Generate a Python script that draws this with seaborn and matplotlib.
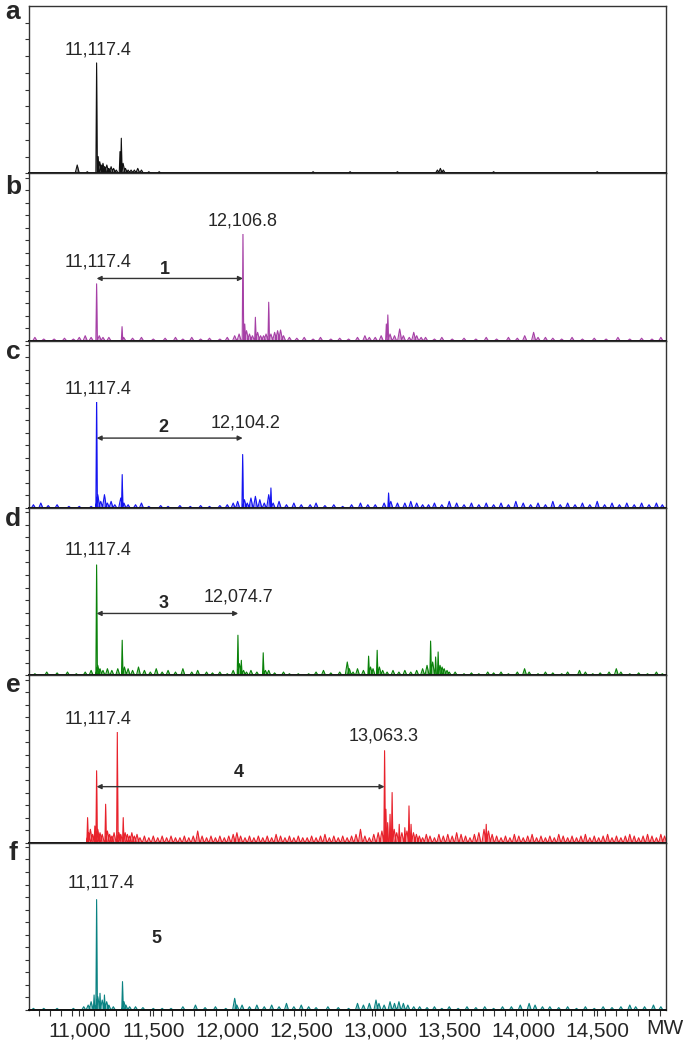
import numpy as np
import pandas as pd
import matplotlib.pyplot as plt
import seaborn as sns
from matplotlib.ticker import MultipleLocator, FuncFormatter

# peak lists (MW, intensity in % of panel height)
a_mw = [10986, 11054, 11117, 11128, 11138, 11148, 11160, 11172, 11186, 11200, 11215, 11232, 11250,
        11275, 11284, 11296, 11312, 11330, 11350, 11372, 11395, 11420, 11470, 11540, 12580, 12830,
        13150, 13420, 13440, 13460, 13800, 14500]
a_int = [5, 1, 66, 10, 7, 5, 6, 4, 5, 3, 4, 3, 2, 13, 21, 6, 3, 2, 2, 2, 3, 2, 1, 1, 1, 1,
         1, 2, 3, 2, 1, 1]

b_mw = [10700, 10760, 10830, 10900, 10960, 11000, 11040, 11080, 11117, 11135, 11160, 11200, 11289,
        11300, 11360, 11420, 11500, 11580, 11650, 11700, 11760, 11820, 11880, 11950, 12000, 12050,
        12080, 12106, 12118, 12130, 12150, 12170, 12190, 12205, 12225, 12245, 12262, 12280, 12295,
        12320, 12340, 12360, 12380, 12420, 12470, 12520, 12580, 12630, 12700, 12760, 12820, 12880,
        12930, 12960, 13000, 13040, 13075, 13085, 13100, 13130, 13165, 13190, 13230, 13260, 13280,
        13310, 13340, 13400, 13450, 13520, 13600, 13680, 13750, 13820, 13900, 13960, 14010, 14070,
        14100, 14150, 14200, 14260, 14330, 14400, 14480, 14560, 14640, 14720, 14800, 14870, 14930]
b_int = [2, 1, 1, 1.5, 1, 2, 3, 2, 34, 3, 2, 2, 8.4, 2, 1.5, 2, 1, 1.5, 2, 1, 2, 1, 1.5, 1, 2, 3,
         4, 65, 10, 6, 4, 3, 14, 5, 3, 3, 4, 23, 4, 5, 6, 6.4, 3, 2, 1.5, 2, 1, 2, 1, 1.5, 1, 2,
         3, 2, 2, 3, 10, 15.4, 4, 3, 7, 3, 2, 5, 3, 2, 2, 1, 2, 1, 1.5, 1, 2, 1, 2, 1.5, 3, 5,
         2, 2, 1.5, 1, 2, 1, 1.5, 1, 2, 1, 1.5, 1, 2]

c_mw = [10690, 10740, 10790, 10850, 10930, 11000, 11080, 11117, 11125, 11145, 11170, 11190, 11215,
        11240, 11280, 11290, 11302, 11330, 11380, 11420, 11470, 11550, 11600, 11680, 11750, 11820,
        11880, 11950, 12000, 12040, 12070, 12104, 12116, 12135, 12160, 12190, 12220, 12250, 12280,
        12295, 12310, 12350, 12400, 12450, 12500, 12560, 12600, 12660, 12720, 12780, 12840, 12900,
        12950, 13000, 13060, 13090, 13105, 13150, 13200, 13240, 13280, 13320, 13360, 13400, 13450,
        13500, 13550, 13600, 13650, 13700, 13750, 13800, 13850, 13900, 13950, 14000, 14050, 14100,
        14150, 14200, 14250, 14300, 14350, 14400, 14450, 14500, 14550, 14600, 14650, 14700, 14750,
        14800, 14850, 14900, 14940]
c_int = [2, 3, 1.5, 2, 1, 1, 1, 66, 8, 4, 8, 3, 4, 2, 6, 20, 3, 2, 2, 3, 1, 1.5, 1, 1.5, 1, 1.5,
         1, 1.5, 2, 3, 4, 32, 5, 3, 6, 7, 5, 3, 8, 12, 3, 4, 2, 3, 2, 2, 3, 1.5, 2, 1, 2, 3,
         2, 2, 3, 9, 4, 3, 3, 4, 3, 2, 2, 3, 2, 4, 3, 2, 3, 2, 3, 2, 3, 2, 4, 3, 2, 3,
         2, 4, 2, 3, 2, 3, 2, 4, 2, 3, 2, 3, 2, 3, 2, 3, 2]

d_mw = [10700, 10780, 10850, 10920, 10980, 11040, 11080, 11117, 11125, 11140, 11160, 11190, 11220,
        11260, 11290, 11305, 11330, 11360, 11400, 11440, 11480, 11520, 11560, 11600, 11650, 11700,
        11760, 11800, 11860, 11900, 11950, 12000, 12040, 12072, 12082, 12095, 12110, 12130, 12160,
        12200, 12243, 12258, 12280, 12320, 12380, 12420, 12480, 12550, 12600, 12650, 12700, 12760,
        12811, 12825, 12850, 12880, 12920, 12955, 12968, 12985, 13013, 13028, 13050, 13080, 13120,
        13160, 13200, 13240, 13280, 13320, 13350, 13374, 13388, 13408, 13425, 13438, 13452, 13466,
        13485, 13500, 13540, 13600, 13650, 13700, 13760, 13800, 13850, 13900, 13960, 14009, 14040,
        14100, 14150, 14200, 14260, 14300, 14380, 14420, 14470, 14520, 14580, 14629, 14660, 14720,
        14780, 14840, 14900, 14940]
d_int = [1, 2, 1.5, 2, 1, 2, 3, 66, 6, 4, 3, 4, 3, 4, 21, 5, 4, 3, 5, 3, 2, 4, 2, 3, 2, 4, 2,
         3, 2, 1.5, 2, 1, 3, 24, 7, 9, 3, 2, 3, 2, 13.5, 3, 3, 1.5, 2, 1, 1, 1, 2, 3, 1.5, 2,
         8, 4, 2, 4, 3, 11.5, 5, 4, 15, 5, 3, 2, 3, 2, 3, 2, 3, 4, 6, 20.5, 8, 11, 14, 6, 5, 4,
         3, 2, 2, 1, 1.5, 1, 2, 1.5, 2, 1, 2, 4, 2, 1, 2, 1.5, 1, 2, 3, 2, 1, 1.5, 2, 4, 2, 1,
         1.5, 1, 2, 1]

e_mw = [11056, 11062, 11075, 11090, 11105, 11117, 11125, 11140, 11155, 11178, 11190, 11205, 11220,
        11235, 11257, 11268, 11280, 11297, 11310, 11325, 11340, 11355, 11372, 11390, 11410, 11440,
        11470, 11500, 11530, 11560, 11590, 11620, 11650, 11680, 11710, 11740, 11770, 11800, 11830,
        11860, 11890, 11920, 11950, 11980, 12010, 12040, 12065, 12090, 12120, 12150, 12180, 12210,
        12240, 12270, 12300, 12330, 12360, 12390, 12420, 12450, 12480, 12510, 12540, 12570, 12600,
        12630, 12660, 12690, 12720, 12750, 12780, 12810, 12840, 12870, 12900, 12930, 12960, 12990,
        13020, 13045, 13063, 13072, 13084, 13100, 13114, 13128, 13145, 13162, 13180, 13200, 13214,
        13228, 13242, 13258, 13278, 13298, 13320, 13345, 13370, 13400, 13430, 13460, 13490, 13520,
        13550, 13580, 13610, 13640, 13670, 13700, 13735, 13750, 13765, 13790, 13820, 13850, 13880,
        13910, 13940, 13970, 14000, 14030, 14060, 14090, 14120, 14150, 14180, 14210, 14240, 14270,
        14300, 14330, 14360, 14390, 14420, 14450, 14480, 14510, 14540, 14570, 14600, 14630, 14660,
        14690, 14720, 14750, 14780, 14810, 14840, 14870, 14900, 14930, 14955]
e_int = [15, 6, 8, 5, 10, 43, 8, 6, 5, 23, 7, 5, 4, 6, 66, 6, 5, 15, 6, 5, 4, 6, 4, 5, 3, 4,
         3, 4, 3, 4, 3, 4, 3, 3, 4, 3, 4, 7, 4, 3, 4, 3, 4, 3, 4, 5, 6, 4, 3, 4, 3, 4,
         3, 4, 3, 5, 4, 3, 4, 3, 4, 3, 3, 4, 3, 4, 5, 3, 4, 3, 4, 3, 4, 5, 8, 4, 3, 5,
         6, 7, 55, 20, 12, 17, 30, 8, 6, 11, 6, 9, 7, 22, 11, 6, 5, 4, 3, 5, 4, 3, 5, 4, 5, 4,
         6, 5, 4, 3, 5, 6, 8, 11, 7, 5, 4, 3, 4, 3, 5, 4, 3, 4, 5, 3, 4, 3, 4, 3, 5, 4,
         3, 4, 3, 4, 5, 3, 4, 3, 4, 5, 3, 4, 3, 4, 5, 4, 3, 4, 5, 4, 3, 5, 4]

f_mw = [10690, 10760, 10850, 10960, 11030, 11060, 11080, 11100, 11117, 11125, 11140, 11155, 11170,
        11185, 11200, 11230, 11292, 11302, 11315, 11340, 11380, 11430, 11500, 11560, 11620, 11700,
        11785, 11850, 11920, 11990, 12050, 12065, 12100, 12150, 12200, 12250, 12300, 12350, 12400,
        12450, 12500, 12550, 12600, 12680, 12750, 12820, 12880, 12920, 12960, 13005, 13025, 13060,
        13100, 13130, 13160, 13190, 13220, 13260, 13300, 13350, 13400, 13450, 13500, 13560, 13620,
        13680, 13740, 13800, 13860, 13920, 13980, 14040, 14080, 14130, 14180, 14240, 14300, 14360,
        14420, 14480, 14540, 14600, 14660, 14720, 14760, 14820, 14880, 14930]
f_int = [1, 1, 1, 1, 2, 3, 5, 9, 66, 8, 10, 6, 9, 5, 3, 2, 17, 5, 3, 2, 2, 1.5, 1, 1, 1, 2,
         3, 1.5, 2, 1, 7, 3, 3, 2, 3, 2, 3, 2, 4, 2, 3, 2, 1.5, 2, 1.5, 1, 4, 3, 4, 6, 4, 3,
         5, 4, 5, 4, 3, 2, 2, 1.5, 2, 1, 2, 1, 2, 1.5, 2, 1, 2, 2, 3, 4, 3, 2, 2, 1.5, 2, 1,
         2, 1, 2, 1.5, 2, 3, 2, 2, 3, 2]

panel_letters = ['a', 'b', 'c', 'd', 'e', 'f']
colors = ['#111111', '#a640a6', '#1414f0', '#0a820a', '#e8222c', '#0a8282']

# mass labels: (panel, text, x, y)
mass_labels = [(0, '11,117.4', 11130, 74), (1, '11,117.4', 11130, 47), (1, '12,106.8', 12107, 71.4),
               (2, '11,117.4', 11130, 71), (2, '12,104.2', 12124, 51), (3, '11,117.4', 11130, 75),
               (3, '12,074.7', 12076, 47), (4, '11,117.4', 11130, 74), (4, '13,063.3', 13058, 64),
               (5, '11,117.4', 11150, 76)]
# shift arrows: (panel, from, to, y)
shifts = [(1, 11117, 12106, 37.2), (2, 11117, 12104, 41.8), (3, 11117, 12074, 37),
          (4, 11117, 13063, 33.5)]
number_pos = [(1, 11580, 42.4), (2, 11570, 48), (3, 11570, 43), (4, 12076, 42), (5, 11523, 43)]
numbers = ['1', '2', '3', '4', '5']

sns.set_theme(style='ticks')
plt.rcParams['font.family'] = ['Liberation Sans', 'DejaVu Sans']


def make_trace(mw, inten, xmin, xmax):
    order = np.argsort(mw)
    xs, ys = [xmin], [0.0]
    for i in order:
        w = 5 if inten[i] > 8 else 14
        xs += [mw[i] - w, mw[i], mw[i] + w]
        ys += [0.0, inten[i], 0.0]
    xs.append(xmax)
    ys.append(0.0)
    return pd.DataFrame({'MW': xs, 'I': ys})


all_mw = [a_mw, b_mw, c_mw, d_mw, e_mw, f_mw]
all_int = [a_int, b_int, c_int, d_int, e_int, f_int]
xlim = (10660, 14965)

fig, axes = plt.subplots(6, 1, figsize=(6.85, 10.4), dpi=100, sharex=True,
                         gridspec_kw=dict(hspace=0))
fig.subplots_adjust(left=0.0423, right=0.9723, top=0.9942, bottom=0.0288)

for i, ax in enumerate(axes):
    df = make_trace(all_mw[i], all_int[i], xlim[0], xlim[1])
    ax.fill_between(df['MW'], df['I'], color=colors[i], alpha=0.5, lw=0)
    sns.lineplot(data=df, x='MW', y='I', ax=ax, color=colors[i], lw=0.8,
                 estimator=None, sort=False)
    ax.set_xlim(*xlim)
    ax.set_ylim(0, 100)
    ax.set_xlabel('')
    ax.set_ylabel('')
    step = 10 if i == 0 else 7.5
    ax.set_yticks(np.arange(0, 99, step))
    ax.tick_params(axis='y', length=3, width=0.8, color='#333333', labelleft=False)
    for s in ax.spines.values():
        s.set_color('#333333')
        s.set_linewidth(1.0)
    ax.spines['bottom'].set_color('#111111')
    ax.spines['bottom'].set_linewidth(1.4)
    if i < 5:
        ax.tick_params(axis='x', length=0, labelbottom=False)
    y_pix = [12, 187, 352, 519, 685, 853][i]
    fig.text(13 / 685, 1 - y_pix / 1040, panel_letters[i], fontsize=19, fontweight='bold',
             ha='center', va='center')

for p, txt, x, y in mass_labels:
    axes[p].text(x, y, txt, fontsize=13, ha='center', va='center',
                 bbox=dict(facecolor='white', edgecolor='none', pad=3))

for p, x1, x2, y in shifts:
    axes[p].annotate('', xy=(x2, y), xytext=(x1, y),
                     arrowprops=dict(arrowstyle='<|-|>', color='#333333', lw=1,
                                     mutation_scale=7, shrinkA=0, shrinkB=0))

for (p, x, y), num in zip(number_pos, numbers):
    axes[p].text(x, y, num, fontsize=13, fontweight='bold', ha='center', va='center')

bottom = axes[5]
bottom.xaxis.set_major_locator(MultipleLocator(500))
bottom.xaxis.set_minor_locator(MultipleLocator(75))
bottom.xaxis.set_major_formatter(FuncFormatter(lambda v, _: '{:,.0f}'.format(v)))
bottom.tick_params(axis='x', which='both', length=4, width=0.8, color='#333333',
                   direction='out', labelsize=15, pad=4)
bottom.set_xlim(*xlim)
fig.text(683 / 685, 1 - 1029 / 1040, 'MW', fontsize=15, ha='right', va='center')

fig.savefig('out.png', dpi=100)
